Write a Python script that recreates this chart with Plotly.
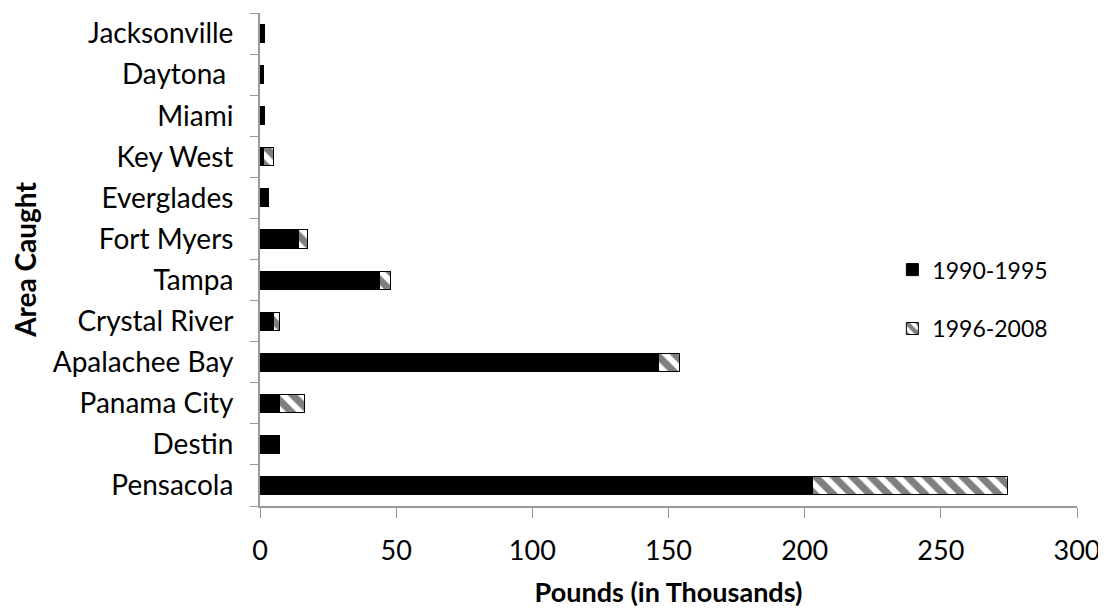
import plotly.graph_objects as go

areas = ["Pensacola", "Destin", "Panama City", "Apalachee Bay", "Crystal River", "Tampa",
         "Fort Myers", "Everglades", "Key West", "Miami", "Daytona ", "Jacksonville"]
v_1990_1995 = [203, 7, 7, 146.5, 5, 44, 14.3, 3, 1.2, 1.5, 1.4, 1.7]
v_1996_2008 = [71.5, 0, 9.5, 7.5, 2, 4, 3.3, 0, 3.7, 0, 0, 0]
x_ticks = [0, 50, 100, 150, 200, 250, 300]

font = "Lato, 'Open Sans', sans-serif"

fig = go.Figure()
fig.add_trace(go.Bar(
    y=areas, x=v_1990_1995, orientation="h", name="1990-1995", legendgroup="a",
    marker=dict(color="black", line=dict(color="black", width=1)),
))
fig.add_trace(go.Bar(
    y=areas, x=v_1996_2008, orientation="h", name="1996-2008", legendgroup="b",
    marker=dict(color="white", line=dict(color="black", width=1),
                pattern=dict(shape="\\", fgcolor="black", bgcolor="white", size=13, solidity=0.55)),
))

fig.update_layout(
    barmode="stack",
    bargap=0.56,
    width=1106, height=616,
    margin=dict(l=252, r=37, t=5, b=118),
    plot_bgcolor="white", paper_bgcolor="white",
    font=dict(family=font, size=20, color="black"),
    legend=dict(x=0.774, y=0.523, xanchor="left", yanchor="top", traceorder="grouped",
                tracegroupgap=26, font=dict(size=23), itemwidth=30, bgcolor="rgba(0,0,0,0)"),
    xaxis=dict(range=[0, 300], tickvals=x_ticks, ticks="outside", ticklen=10, tickcolor="#999999",
               showline=True, linecolor="#999999", linewidth=2, showgrid=False, zeroline=False,
               tickfont=dict(size=27), ticklabelstandoff=10, automargin=False,
               title=dict(text="<b>Pounds (in Thousands)</b>", font=dict(size=27), standoff=18)),
    yaxis=dict(type="category", categoryorder="array", categoryarray=areas,
               ticks="outside", tickson="boundaries", ticklen=8, tickcolor="#999999",
               showline=True, linecolor="#999999", linewidth=2, showgrid=False,
               tickfont=dict(size=28), ticklabelstandoff=19, automargin=False,
               title=dict(text="<b>Area Caught</b>", font=dict(size=28), standoff=54)),
)

fig.write_html("out.html")
